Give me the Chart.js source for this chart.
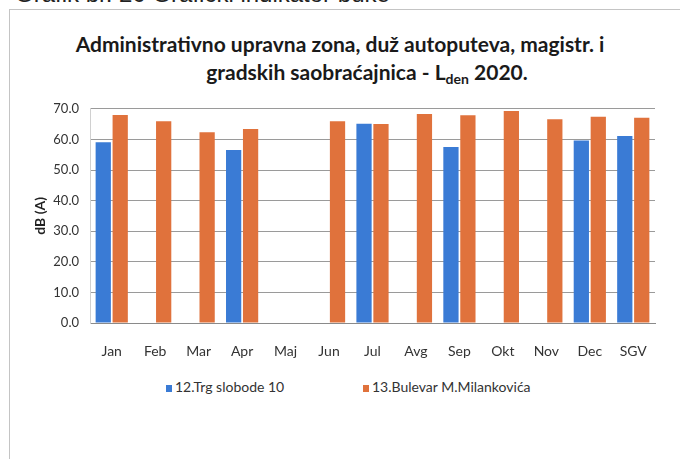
<!DOCTYPE html>
<html>
<head>
<meta charset="utf-8">
<script src="https://cdn.jsdelivr.net/npm/chart.js"></script>
<style>
  body { margin: 0; background: #fff; width: 680px; height: 459px; overflow: hidden; position: relative; font-family: Lato, sans-serif; }
  .caption { position: absolute; left: 15px; top: -18px; font: 24px 'Liberation Sans', sans-serif; line-height: 24px; color: #222; white-space: nowrap; }
  .frame { position: absolute; left: 9px; top: 9px; width: 700px; height: 470px; border-left: 1px solid #c4c4c4; border-top: 1px solid #c4c4c4; }
  .title { position: absolute; width: 680px; text-align: center; font-weight: bold; font-size: 21px; line-height: 21px; color: #1a1a1a; white-space: nowrap; }
  .title sub { font-size: 14px; vertical-align: -4px; }
  #chart { position: absolute; left: 10px; top: 90px; }
  .legend-item { position: absolute; top: 379px; font-size: 14px; line-height: 16px; color: #333; white-space: nowrap; }
  .legend-item i { display: inline-block; width: 6px; height: 7px; margin-right: 3px; vertical-align: 0px; }
</style>
</head>
<body>
<div class="caption">Grafik br. 20 Grafički indikator buke</div>
<div class="frame"></div>
<div class="title" style="left:0; top:33px;">Administrativno upravna zona, duž autoputeva, magistr. i</div>
<div class="title" style="left:27px; top:61px;">gradskih saobraćajnica - L<sub>den</sub> 2020.</div>
<canvas id="chart" width="660" height="270"></canvas>
<div id="legend"></div>
<script>
const months = ['Jan', 'Feb', 'Mar', 'Apr', 'Maj', 'Jun', 'Jul', 'Avg', 'Sep', 'Okt', 'Nov', 'Dec', 'SGV'];
const trgSlobode = [59.1, null, null, 56.5, null, null, 65.1, null, 57.5, null, null, 59.6, 61.1];
const bulevarMilankovica = [68.0, 65.9, 62.3, 63.4, null, 65.9, 65.0, 68.3, 67.9, 69.3, 66.6, 67.4, 67.1];
const seriesNames = ['12.Trg slobode 10', '13.Bulevar M.Milankovića'];

const blue = '#3a7bd5';
const orange = '#e0723c';

const chart = new Chart(document.getElementById('chart'), {
  type: 'bar',
  data: {
    labels: months,
    datasets: [
      { label: seriesNames[0], data: trgSlobode, backgroundColor: blue },
      { label: seriesNames[1], data: bulevarMilankovica, backgroundColor: orange },
    ],
  },
  options: {
    responsive: false,
    animation: false,
    devicePixelRatio: 1,
    categoryPercentage: 0.78,
    barPercentage: 0.9,
    layout: { padding: { top: 11, right: 15, left: 0, bottom: 0 } },
    plugins: { legend: { display: false }, tooltip: { enabled: false } },
    scales: {
      x: {
        grid: { display: false },
        border: { color: '#8a8a8a' },
        ticks: { padding: 12, color: '#333', font: { family: 'Lato', size: 14 } },
        afterFit: (scale) => { scale.height = 37; },
      },
      y: {
        min: 0,
        max: 70,
        ticks: {
          stepSize: 10,
          padding: 11,
          color: '#333',
          font: { family: 'Lato', size: 13 },
          callback: (v) => v.toFixed(1),
        },
        grid: { color: '#9a9a9a', drawTicks: false },
        border: { display: true, color: '#d0d0d0' },
        title: {
          display: true,
          text: 'dB (A)',
          color: '#222',
          font: { family: 'Lato', size: 14, weight: 'bold' },
          padding: { top: 22, bottom: 0 },
        },
        afterFit: (scale) => { scale.width = 80; },
      },
    },
  },
});

// legend in html, from the datasets
const legendLeft = [166, 363];
const legend = document.getElementById('legend');
chart.data.datasets.forEach((ds, i) => {
  const item = document.createElement('div');
  item.className = 'legend-item';
  item.style.left = legendLeft[i] + 'px';
  item.innerHTML = `<i style="background:${ds.backgroundColor}"></i>${ds.label}`;
  legend.appendChild(item);
});
</script>
</body>
</html>
